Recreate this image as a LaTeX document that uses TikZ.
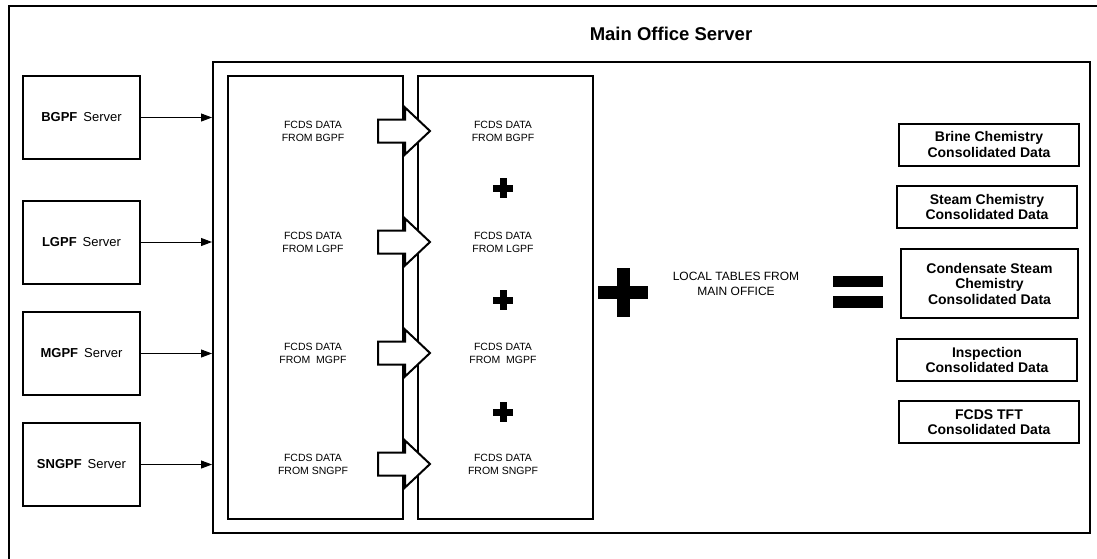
\documentclass[tikz,border=0pt]{standalone}
\usepackage{fontspec}
\setmainfont{Liberation Sans}
\usetikzlibrary{arrows.meta}
\begin{document}
\begin{tikzpicture}[x=1pt,y=-1pt,
  thickbox/.style={draw, line width=2pt, inner sep=0pt, align=center},
  server/.style={thickbox, minimum width=117pt, minimum height=83pt, font=\fontsize{13}{15}\selectfont},
  result/.style={thickbox, minimum width=180pt, minimum height=42pt, font=\bfseries\fontsize{14}{15.5}\selectfont},
  dtext/.style={align=center, inner sep=0pt, font=\fontsize{10.5}{13}\selectfont},
  feed/.style={line width=0.9pt, -{Triangle[length=11pt,width=8pt]}},
  blockarr/.pic={\draw[line width=2pt, fill=white, line join=miter]
      (-27,-11.5) -- (0,-11.5) -- (0,-23.5) -- (25,0) -- (0,23.5) -- (0,11.5) -- (-27,11.5) -- cycle;},
  smallplus/.pic={\fill (-10,-3.5) rectangle (10,3.5); \fill (-3.5,-10) rectangle (3.5,10);},
  bigplus/.pic={\fill (-25,-6.5) rectangle (25,6.5); \fill (-6.5,-24.5) rectangle (6.5,24.5);},
  equalsign/.pic={\fill (-25,-16) rectangle (25,-5); \fill (-25,4) rectangle (25,16);}
]
\useasboundingbox (0,0) rectangle (1097,558);
% outer frame (runs past the page edge)
\draw[line width=2pt] (9,6) rectangle (1120,580);
\node[font=\bfseries\fontsize{18.5}{22}\selectfont, inner sep=0pt] (title) at (671,34) {Main Office Server};
% main office server box
\node[thickbox, minimum width=877pt, minimum height=471pt] (main) at (651.5,297.5) {};
% columns
\node[thickbox, minimum width=175pt, minimum height=443pt] (col1) at (315.5,297.5) {};
\node[thickbox, minimum width=175pt, minimum height=443pt] (col2) at (505.5,297.5) {};
% servers
\node[server] (bgpf) at (81.5,117.5) {\textbf{BGPF}\hspace{6pt}Server};
\node[server] (lgpf) at (81.5,242) {\textbf{LGPF}\hspace{6pt}Server};
\node[server] (mgpf) at (81.5,353.5) {\textbf{MGPF}\hspace{6pt}Server};
\node[server] (sngpf) at (81.5,464.5) {\textbf{SNGPF}\hspace{6pt}Server};
\foreach \s in {bgpf,lgpf,mgpf,sngpf}
  \draw[feed] (\s.east) -- (\s.east -| main.west);
% block arrows
\pic at (405,131) {blockarr};
\pic at (405,242) {blockarr};
\pic at (405,353) {blockarr};
\pic at (405,464) {blockarr};
% column texts
\node[dtext] (a1) at (313,131) {FCDS DATA\\FROM BGPF};
\node[dtext] (a2) at (313,242) {FCDS DATA\\FROM LGPF};
\node[dtext] (a3) at (313,353) {FCDS DATA\\FROM\ \ MGPF};
\node[dtext] (a4) at (313,464) {FCDS DATA\\FROM SNGPF};
\node[dtext] (b1) at (503,131) {FCDS DATA\\FROM BGPF};
\node[dtext] (b2) at (503,242) {FCDS DATA\\FROM LGPF};
\node[dtext] (b3) at (503,353) {FCDS DATA\\FROM\ \ MGPF};
\node[dtext] (b4) at (503,464) {FCDS DATA\\FROM SNGPF};
\pic at (503,188) {smallplus};
\pic at (503,300) {smallplus};
\pic at (503,412) {smallplus};
% big plus, local tables, equal
\pic at (623,292.5) {bigplus};
\node[align=center, inner sep=0pt, font=\fontsize{12}{15}\selectfont] (local) at (736,284) {LOCAL TABLES FROM\\MAIN OFFICE};
\pic at (858,292) {equalsign};
% results
\node[result] (brine) at (989,144.5) {Brine Chemistry\\Consolidated Data};
\node[result] (steam) at (987,207) {Steam Chemistry\\Consolidated Data};
\node[result, minimum width=177pt, minimum height=69pt] (cond) at (989.5,283.5) {Condensate Steam\\Chemistry\\Consolidated Data};
\node[result] (insp) at (987,360) {Inspection\\Consolidated Data};
\node[result] (tft) at (989,422) {FCDS TFT\\Consolidated Data};
\end{tikzpicture}
\end{document}
